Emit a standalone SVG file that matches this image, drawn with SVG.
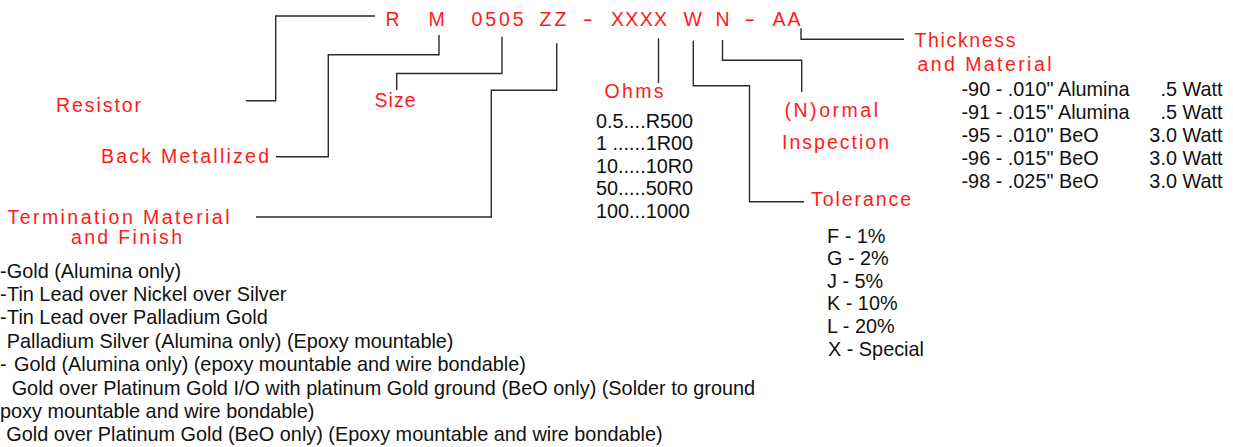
<svg xmlns="http://www.w3.org/2000/svg" width="1233" height="447" viewBox="0 0 1233 447">
<style>
.bg{fill:#ffffff}
.red{font-family:"Liberation Sans",Arial,sans-serif;font-size:19.5px;fill:#ff1a1a}
.blk{font-family:"Liberation Sans",Arial,sans-serif;font-size:19.85px;fill:#111111}
.end{text-anchor:end}
.conn{fill:none;stroke:#2a2a2a;stroke-width:1.4}
</style>
<rect class="bg" x="0" y="0" width="1233" height="447"/>

<g id="connectors">
<path class="conn" d="M375,16 H275.7 V100.7 H246"/>
<path class="conn" d="M439,35 V54.8 H328.3 V156.7 H276"/>
<path class="conn" d="M502,36.7 V73.5 H396.7 V90"/>
<path class="conn" d="M556.7,43.3 V90.3 H491.3 V217 H256"/>
<path class="conn" d="M658.5,38.3 V83"/>
<path class="conn" d="M693.3,40.7 V85.7 H749.5 V201.7 H804"/>
<path class="conn" d="M722.5,40 V60.3 H801.7 V92"/>
<path class="conn" d="M801,28.3 V39.3 H904"/>
</g>

<g id="part-number">
<text class="red" x="385.5" y="25.5">R</text>
<text class="red" x="428.5" y="25.5">M</text>
<text class="red" x="471.5" y="25.5" textLength="52" lengthAdjust="spacing">0505</text>
<text class="red" x="539.5" y="25.5" textLength="27" lengthAdjust="spacing">ZZ</text>
<text class="red" x="583" y="25.5" textLength="9.5" lengthAdjust="spacingAndGlyphs">-</text>
<text class="red" x="611" y="25.5" textLength="56" lengthAdjust="spacing">XXXX</text>
<text class="red" x="683.5" y="25.5">W</text>
<text class="red" x="715.5" y="25.5">N</text>
<text class="red" x="744.5" y="25.5" textLength="10.5" lengthAdjust="spacingAndGlyphs">-</text>
<text class="red" x="772.5" y="25.5" textLength="28" lengthAdjust="spacing">AA</text>
</g>

<g id="resistor">
<text class="red" x="56" y="111.5" textLength="85" lengthAdjust="spacing">Resistor</text>
</g>

<g id="back-metallized">
<text class="red" x="101" y="162.7" textLength="168" lengthAdjust="spacing">Back Metallized</text>
</g>

<g id="size">
<text class="red" x="374.5" y="106.5" textLength="41" lengthAdjust="spacing">Size</text>
</g>

<g id="termination">
<text class="red" x="7.5" y="224.3" textLength="222" lengthAdjust="spacing">Termination Material</text>
<text class="red" x="71" y="244.3" textLength="111" lengthAdjust="spacing">and Finish</text>
<text class="blk" y="277.5"><tspan x="0">-</tspan> <tspan x="6.8">Gold (Alumina only)</tspan></text>
<text class="blk" y="300.9"><tspan x="0">-</tspan> <tspan x="7">Tin Lead over Nickel over Silver</tspan></text>
<text class="blk" y="324.3"><tspan x="0">-</tspan> <tspan x="7">Tin Lead over Palladium Gold</tspan></text>
<text class="blk" x="6.8" y="347.7">Palladium Silver (Alumina only) (Epoxy mountable)</text>
<text class="blk" y="371.1"><tspan x="0">-</tspan> <tspan x="14">Gold (Alumina only) (epoxy mountable and wire bondable)</tspan></text>
<text class="blk" x="11.7" y="394.5">Gold over Platinum Gold I/O with platinum Gold ground (BeO only) (Solder to ground</text>
<text class="blk" x="0" y="417.9">poxy mountable and wire bondable)</text>
<text class="blk" x="6.3" y="441.3">Gold over Platinum Gold (BeO only) (Epoxy mountable and wire bondable)</text>
</g>

<g id="ohms">
<text class="red" x="604.5" y="97.5" textLength="59" lengthAdjust="spacing">Ohms</text>
<text class="blk" x="596" y="127.5">0.5....R500</text>
<text class="blk" x="596" y="150.1">1 ......1R00</text>
<text class="blk" x="596" y="172.7">10.....10R0</text>
<text class="blk" x="596" y="195.3">50.....50R0</text>
<text class="blk" x="596" y="217.9">100...1000</text>
</g>

<g id="normal-inspection">
<text class="red" x="784.5" y="117.3" textLength="93.5" lengthAdjust="spacing">(N)ormal</text>
<text class="red" x="782" y="149" textLength="107" lengthAdjust="spacing">Inspection</text>
</g>

<g id="tolerance">
<text class="red" x="811" y="206" textLength="100" lengthAdjust="spacing">Tolerance</text>
<text class="blk" x="827" y="242.5">F - 1%</text>
<text class="blk" x="827" y="265.1">G - 2%</text>
<text class="blk" x="827" y="287.7">J - 5%</text>
<text class="blk" x="827" y="310.3">K - 10%</text>
<text class="blk" x="827" y="332.9">L - 20%</text>
<text class="blk" x="828" y="355.5">X - Special</text>
</g>

<g id="thickness">
<text class="red" x="914.5" y="46.7" textLength="101" lengthAdjust="spacing">Thickness</text>
<text class="red" x="917.5" y="71" textLength="134" lengthAdjust="spacing">and Material</text>
<text class="blk" x="961.5" y="96">-90 - .010" Alumina</text>
<text class="blk end" x="1222.5" y="96">.5 Watt</text>
<text class="blk" x="961.5" y="119">-91 - .015" Alumina</text>
<text class="blk end" x="1222.5" y="119">.5 Watt</text>
<text class="blk" x="961.5" y="142">-95 - .010" BeO</text>
<text class="blk end" x="1222.5" y="142">3.0 Watt</text>
<text class="blk" x="961.5" y="165">-96 - .015" BeO</text>
<text class="blk end" x="1222.5" y="165">3.0 Watt</text>
<text class="blk" x="961.5" y="188">-98 - .025" BeO</text>
<text class="blk end" x="1222.5" y="188">3.0 Watt</text>
</g>
</svg>
